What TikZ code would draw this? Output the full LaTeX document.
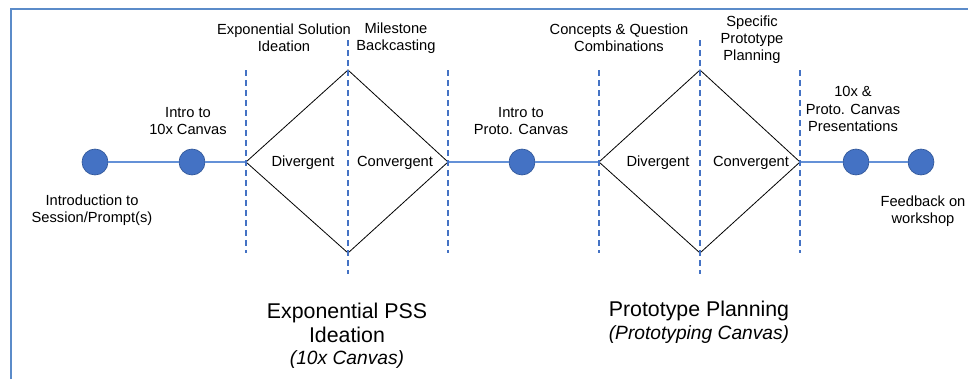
\documentclass[tikz,border=0pt]{standalone}
\usepackage{fontspec}
\setmainfont{Liberation Sans}
\usetikzlibrary{shapes.geometric}
\definecolor{frameblue}{RGB}{91,139,201}
\definecolor{dotblue}{RGB}{68,114,196}
\definecolor{dotedge}{RGB}{47,85,151}
\definecolor{lineblue}{RGB}{100,145,215}
\definecolor{dashblue}{RGB}{68,114,196}
\tikzset{
  dot/.style={circle,fill=dotblue,draw=dotedge,line width=0.5pt,minimum size=19.5pt,inner sep=0pt},
  conn/.style={draw=lineblue,line width=1.1pt},
  phase/.style={dashblue,line width=1.1pt,dash pattern=on 4.5pt off 3pt},
  dia/.style={draw=black,line width=0.6pt},
  small/.style={font=\fontsize{11}{12.8}\selectfont,align=center,inner sep=0pt},
  big/.style={font=\fontsize{16}{18}\selectfont,align=center,inner sep=0pt},
  bigit/.style={font=\fontsize{14.4}{16}\selectfont\itshape,align=center,inner sep=0pt},
}
\begin{document}
\begin{tikzpicture}[x=0.75pt,y=-0.75pt]
\useasboundingbox (0,0) rectangle (968,379);
% frame
\draw[frameblue,line width=1.6pt] (11,379) -- (11,9) -- (968,9);

% dots
\node[dot] (c1) at (95,162) {};
\node[dot] (c2) at (192,162) {};
\node[dot] (c3) at (522,162) {};
\node[dot] (c4) at (856,162) {};
\node[dot] (c5) at (921,162) {};

% diamond corners
\coordinate (d1l) at (246,162);
\coordinate (d1t) at (348,70);
\coordinate (d1r) at (448,162);
\coordinate (d1b) at (348,253);
\coordinate (d2l) at (599,162);
\coordinate (d2t) at (700,70);
\coordinate (d2r) at (800,162);
\coordinate (d2b) at (700,253);

% connectors
\draw[conn] (c1) -- (c2);
\draw[conn] (c2) -- (d1l);
\draw[conn] (d1r) -- (c3);
\draw[conn] (c3) -- (d2l);
\draw[conn] (d2r) -- (c4);
\draw[conn] (c4) -- (c5);

% diamonds
\draw[dia] (d1l) -- (d1t) -- (d1r) -- (d1b) -- cycle;
\draw[dia] (d2l) -- (d2t) -- (d2r) -- (d2b) -- cycle;

% dashed phase lines
\draw[phase] (246,70) -- (246,253);
\draw[phase] (348,40) -- (348,274);
\draw[phase] (448,70) -- (448,253);
\draw[phase] (599,70) -- (599,253);
\draw[phase] (700,40) -- (700,274);
\draw[phase] (800,70) -- (800,253);

% labels
\node[small] (l1) at (92,210) {Introduction to\\Session/Prompt(s)};
\node[small] (l2) at (188,121) {Intro to\\10x Canvas};
\node[small] (l3) at (284,38) {Exponential Solution\\Ideation};
\node[small] (l4) at (396,38) {Milestone\\Backcasting};
\node[small] (l5) at (303,163) {Divergent};
\node[small] (l6) at (395,163) {Convergent};
\node[small] (l7) at (521,121) {Intro to\\Proto. Canvas};
\node[small] (l8) at (619,38) {Concepts \& Question\\Combinations};
\node[small] (l9) at (752,40) {Specific\\Prototype\\Planning};
\node[small] (l10) at (658,163) {Divergent};
\node[small] (l11) at (751,163) {Convergent};
\node[small] (l12) at (853,109) {10x \&\\Proto. Canvas\\Presentations};
\node[small] (l13) at (923,211.5) {Feedback on\\workshop};

\node[big] (b1) at (347,323) {Exponential PSS\\Ideation};
\node[bigit] (b1s) at (347,360) {(10x Canvas)};
\node[big] (b2) at (699,311) {Prototype Planning};
\node[bigit] (b2s) at (699,335) {(Prototyping Canvas)};
\end{tikzpicture}
\end{document}
